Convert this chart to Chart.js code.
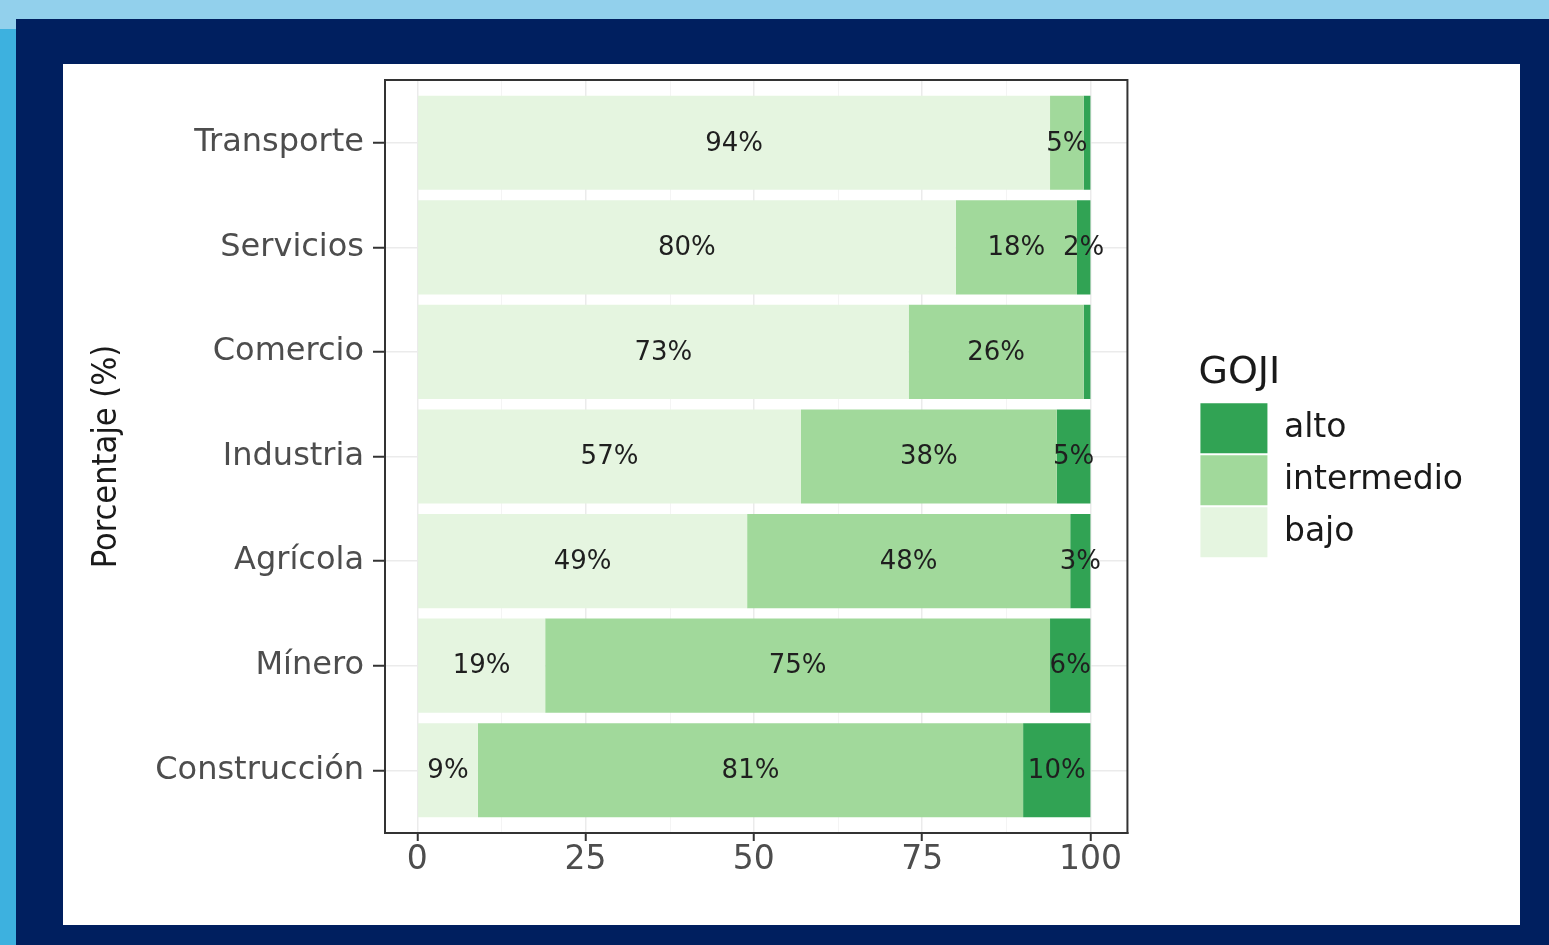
<!DOCTYPE html>
<html>
<head>
<meta charset="utf-8">
<script src="https://cdn.jsdelivr.net/npm/chart.js@4"></script>
<style>
  html, body { margin: 0; padding: 0; }
  body { width: 1549px; height: 945px; background: #92d0ec; position: relative; overflow: hidden; }
  #leftStrip { position: absolute; left: 0; top: 29px; width: 16px; height: 916px; background: #3db1df; }
  #frame { position: absolute; left: 16px; top: 19px; width: 1533px; height: 926px; background: #001f5f; }
  #panel { position: absolute; left: 63px; top: 64px; width: 1457px; height: 861px; background: #ffffff; }
  canvas { display: block; }
</style>
</head>
<body>
<div id="leftStrip"></div>
<div id="frame"></div>
<div id="panel"><canvas id="c" width="1457" height="861"></canvas></div>
<script>
// ---- data ----
const categories = ['Transporte', 'Servicios', 'Comercio', 'Industria', 'Agrícola', 'Mínero', 'Construcción'];
const bajo       = [94, 80, 73, 57, 49, 19, 9];
const intermedio = [5, 18, 26, 38, 48, 75, 81];
const alto       = [1, 2, 1, 5, 3, 6, 10];
const seriesNames = ['bajo', 'intermedio', 'alto'];
const xTicks = [0, 25, 50, 75, 100];
const xMinor = [12.5, 37.5, 62.5, 87.5];
const legendTitle = 'GOJI';
const axisTitle = 'Porcentaje (%)';
const labelMin = 2;

const colors = { bajo: '#e5f5e0', intermedio: '#a1d99b', alto: '#31a354' };
const toPoints = arr => arr.map((v, i) => ({ x: v, y: i }));

const panelPlugin = {
  id: 'panelPlugin',
  beforeDatasetsDraw(chart) {
    const { ctx, chartArea: a, scales: { x } } = chart;
    ctx.save();
    ctx.strokeStyle = '#f4f4f4';
    ctx.lineWidth = 1;
    xMinor.forEach(v => {
      const px = Math.round(x.getPixelForValue(v)) + 0.5;
      ctx.beginPath(); ctx.moveTo(px, a.top); ctx.lineTo(px, a.bottom); ctx.stroke();
    });
    ctx.restore();
  },
  afterDatasetsDraw(chart) {
    const { ctx } = chart;
    ctx.save();
    ctx.font = "26px 'DejaVu Sans'";
    ctx.fillStyle = '#1f1f1f';
    ctx.textAlign = 'center';
    ctx.textBaseline = 'middle';
    chart.data.datasets.forEach((ds, di) => {
      const meta = chart.getDatasetMeta(di);
      meta.data.forEach((el, i) => {
        const v = ds.data[i].x;
        if (v < labelMin) return;
        const cx = (el.x + el.base) / 2;
        ctx.fillText(v + '%', cx, el.y + 1);
      });
    });
    ctx.restore();
  },
  afterDraw(chart) {
    const { ctx, chartArea: a } = chart;
    ctx.save();
    ctx.strokeStyle = '#333333';
    ctx.lineWidth = 2;
    ctx.strokeRect(a.left, a.top, a.right - a.left, a.bottom - a.top);
    ctx.restore();
  }
};

new Chart(document.getElementById('c'), {
  type: 'bar',
  data: {
    datasets: [
      { label: seriesNames[0], data: toPoints(bajo), backgroundColor: colors.bajo, borderWidth: 0 },
      { label: seriesNames[1], data: toPoints(intermedio), backgroundColor: colors.intermedio, borderWidth: 0 },
      { label: seriesNames[2], data: toPoints(alto), backgroundColor: colors.alto, borderWidth: 0 }
    ]
  },
  options: {
    responsive: false,
    animation: false,
    indexAxis: 'y',
    categoryPercentage: 1,
    barPercentage: 0.9,
    layout: { padding: { left: 0, top: 16, right: 47, bottom: 0 } },
    scales: {
      x: {
        type: 'linear', stacked: true, position: 'bottom', offset: false,
        min: -4.8, max: 105.5,
        afterBuildTicks: s => { s.ticks = xTicks.map(v => ({ value: v })); },
        afterFit: s => { s.height = 92; s.paddingLeft = 0; s.paddingRight = 0; },
        grid: { offset: false, color: '#ebebeb', lineWidth: 1.5, drawTicks: true, tickLength: 8, tickColor: '#333333', tickWidth: 2 },
        border: { display: true, color: '#333333', width: 2 },
        ticks: { color: '#4d4d4d', font: { family: "'DejaVu Sans'", size: 33 }, padding: 0, maxRotation: 0 }
      },
      y: {
        type: 'linear', stacked: true, position: 'left', reverse: true, offset: false,
        min: -0.6, max: 6.6,
        afterBuildTicks: s => { s.ticks = categories.map((c, i) => ({ value: i })); },
        afterFit: s => { s.width = 322; s.paddingTop = 0; s.paddingBottom = 0; },
        grid: { offset: false, color: '#ebebeb', lineWidth: 1.5, drawTicks: true, tickLength: 12, tickColor: '#333333', tickWidth: 2 },
        border: { display: true, color: '#333333', width: 2 },
        ticks: { color: '#4d4d4d', font: { family: "'DejaVu Sans'", size: 32 }, padding: 9,
                 callback: v => categories[v] },
        title: { display: true, text: axisTitle, color: '#1a1a1a',
                 font: { family: "'Liberation Sans Narrow', 'DejaVu Sans Condensed', 'Liberation Sans'", size: 34 },
                 padding: { top: 24, bottom: 0 } }
      },
      yR: {
        type: 'linear', position: 'right', display: true,
        grid: { display: false, drawTicks: false },
        border: { display: false },
        ticks: { display: false },
        afterFit: s => { s.width = 71; s.paddingTop = 0; s.paddingBottom = 0; }
      }
    },
    plugins: {
      tooltip: { enabled: false },
      legend: {
        position: 'right',
        fullSize: false,
        reverse: true,
        maxWidth: 400,
        title: { display: true, text: legendTitle, color: '#1a1a1a', position: 'start',
                 font: { family: "'DejaVu Sans'", size: 38 }, padding: { top: 0, bottom: 2 } },
        labels: { boxWidth: 67, boxHeight: 50, padding: 2, color: '#1a1a1a',
                  font: { family: "'DejaVu Sans'", size: 33 } }
      }
    }
  },
  plugins: [panelPlugin]
});
</script>
</body>
</html>
